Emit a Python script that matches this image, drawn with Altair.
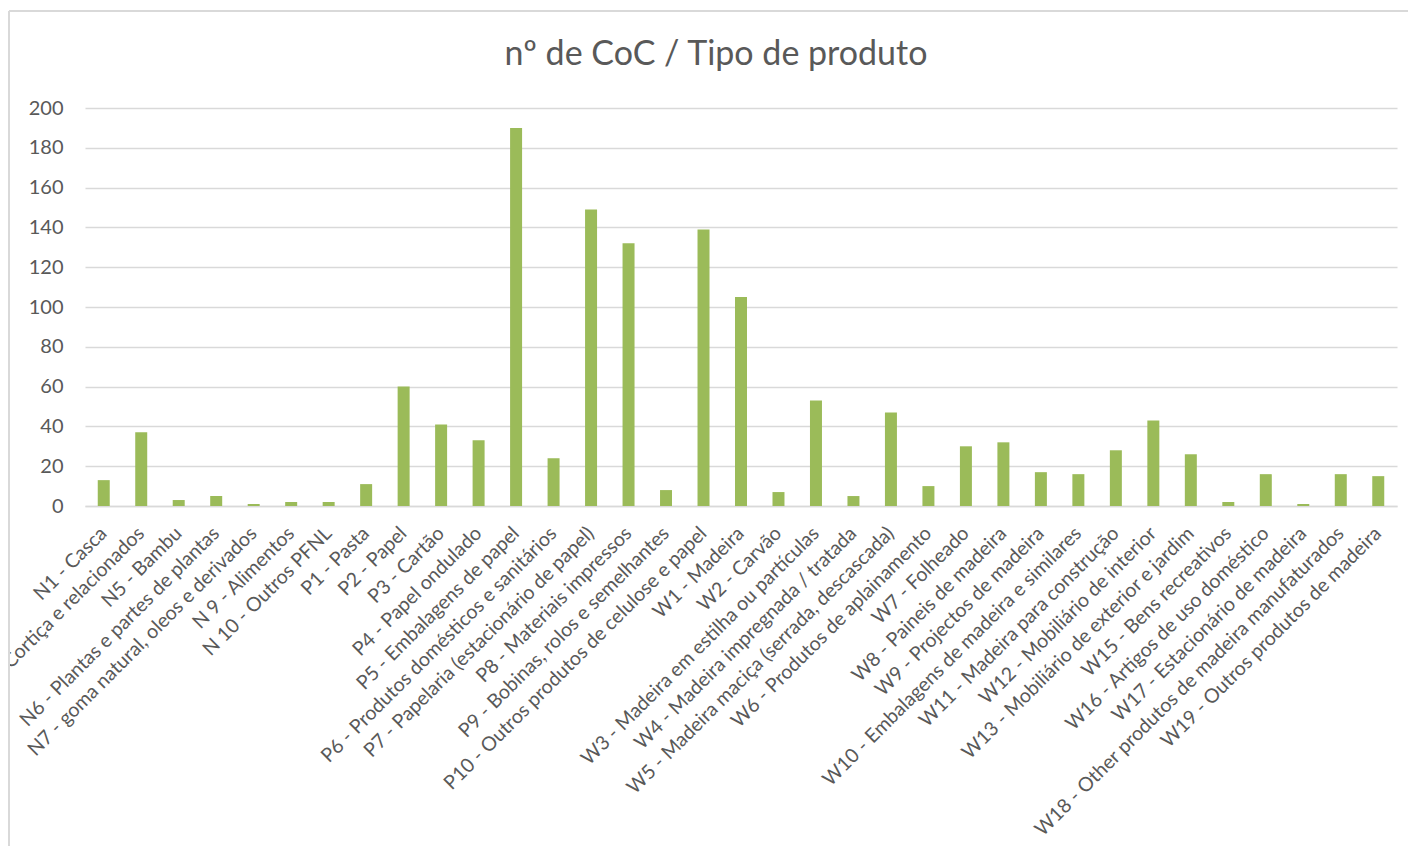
import altair as alt
import pandas as pd

categories = [
    "N1 - Casca", "Cortiça e relacionados", "N5 - Bambu", "N6 - Plantas e partes de plantas",
    "N7 - goma natural, oleos e derivados", "N 9 - Alimentos", "N 10 - Outros PFNL",
    "P1 - Pasta", "P2 - Papel", "P3 - Cartão", "P4 - Papel ondulado",
    "P5 - Embalagens de papel", "P6 - Produtos domésticos e sanitários",
    "P7 - Papelaria (estacionário de papel)", "P8 - Materiais impressos",
    "P9 - Bobinas, rolos e semelhantes", "P10 - Outros produtos de celulose e papel",
    "W1 - Madeira", "W2 - Carvão", "W3 - Madeira em estilha ou partículas",
    "W4 - Madeira impregnada / tratada", "W5 - Madeira maciça (serrada, descascada)",
    "W6 - Produtos de aplainamento", "W7 - Folheado", "W8 - Paineis de madeira",
    "W9 - Projectos de madeira", "W10 - Embalagens de madeira e similares",
    "W11 - Madeira para construção", "W12 - Mobiliário de interior",
    "W13 - Mobiliário de exterior e jardim", "W15 - Bens recreativos",
    "W16 - Artigos de uso doméstico", "W17 - Estacionário de madeira",
    "W18 - Other produtos de madeira manufaturados", "W19 - Outros produtos de madeira",
]
values = [13, 37, 3, 5, 1, 2, 2, 11, 60, 41, 33, 190, 24, 149, 132, 8, 139, 105, 7,
          53, 5, 47, 10, 30, 32, 17, 16, 28, 43, 26, 2, 16, 1, 16, 15]
y_ticks = [0, 20, 40, 60, 80, 100, 120, 140, 160, 180, 200]
title_text = "nº de CoC / Tipo de produto"

df = pd.DataFrame({"cat": categories, "val": values})

FONT = "Lato"
GREY = "#595959"
FRAME = "#d9d9d9"

bars = alt.Chart(df).mark_bar(color="#9bbb59").encode(
    x=alt.X("cat:N", sort=categories,
            scale=alt.Scale(paddingInner=0.68, paddingOuter=0.34),
            axis=alt.Axis(title=None, labelAngle=-45, labelAlign="right",
                          labelBaseline="middle", labelFontSize=19.6, labelColor=GREY,
                          labelFont=FONT, ticks=False, domain=True, domainColor=FRAME,
                          domainWidth=1.5, labelPadding=24, labelOverlap=False,
                          labelLimit=700)),
    y=alt.Y("val:Q", scale=alt.Scale(domain=[0, 200], nice=False),
            axis=alt.Axis(title=None, values=y_ticks, labelFontSize=20, labelColor=GREY,
                          labelFont=FONT, ticks=False, domain=False, gridColor=FRAME,
                          gridWidth=1.5, labelPadding=22)),
)

one = alt.Data(values=[{"k": 1}])
frame_left = alt.Chart(one).mark_rule(color=FRAME, strokeWidth=2).encode(
    x=alt.value(-76), y=alt.value(-97), y2=alt.value(800))
frame_top = alt.Chart(one).mark_rule(color=FRAME, strokeWidth=2).encode(
    x=alt.value(-76), x2=alt.value(1400), y=alt.value(-97))
title = alt.Chart(one).mark_text(
    text=title_text, font=FONT, fontSize=34, color=GREY, align="center",
    baseline="alphabetic").encode(x=alt.value(631), y=alt.value(-43))

chart = alt.layer(bars, frame_left, frame_top, title).properties(
    width=1312, height=398,
    autosize=alt.AutoSizeParams(type="none"),
    padding={"left": 77, "top": 100, "right": 11, "bottom": 340},
).configure_view(stroke=None)

chart.save("out.html", embed_options={"renderer": "svg", "actions": False})
